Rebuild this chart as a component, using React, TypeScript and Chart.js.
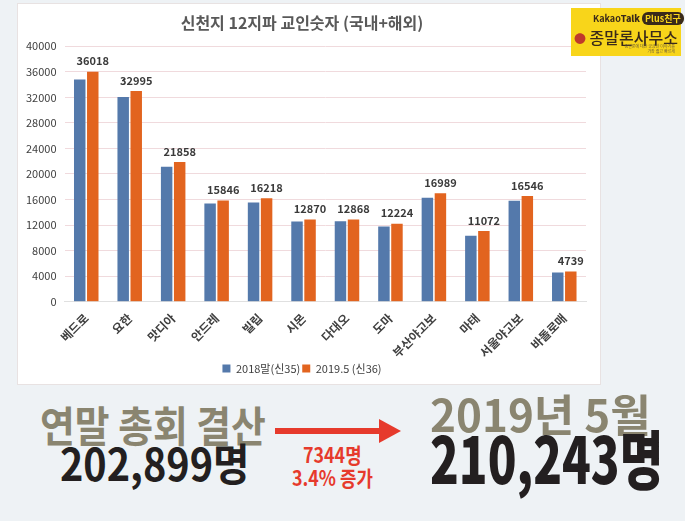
import React, { useEffect, useRef } from "react";
import { Chart, registerables } from "chart.js";

Chart.register(...registerables);

const categories = [
  "베드로", "요한", "맛디아", "안드레", "빌립", "시몬",
  "다대오", "도마", "부산야고보", "마태", "서울야고보", "바돌로매",
];
const series2018 = [34780, 32040, 21150, 15370, 15550, 12560, 12600, 11800, 16300, 10350, 15800, 4600];
const series2019 = [36018, 32995, 21858, 15846, 16218, 12870, 12868, 12224, 16989, 11072, 16546, 4739];
const seriesNames = ["2018말(신35)", "2019.5 (신36)"];
const yMin = 0;
const yMax = 40000;
const yStep = 4000;
const chartTitle = "신천지 12지파 교인숫자 (국내+해외)";

const FONT = "'Noto Sans CJK KR', 'Noto Sans', sans-serif";

const labelPlugin = {
  id: "topLabels",
  afterDatasetsDraw(chart: any) {
    const ctx = chart.ctx;
    const meta = chart.getDatasetMeta(1);
    ctx.save();
    ctx.font = `bold 11px ${FONT}`;
    ctx.fillStyle = "#3a3a3a";
    ctx.textAlign = "center";
    ctx.textBaseline = "bottom";
    meta.data.forEach((el: any, i: number) => {
      ctx.fillText(String(series2019[i]), el.x, el.y - 5);
    });
    ctx.restore();
  },
};

export default function App() {
  const ref = useRef<HTMLCanvasElement | null>(null);

  useEffect(() => {
    document.body.style.margin = "0";
    if (!ref.current) return;
    const chart = new Chart(ref.current, {
      type: "bar",
      data: {
        labels: categories,
        datasets: [
          {
            label: seriesNames[0],
            data: series2018,
            backgroundColor: "#5479ab",
            borderWidth: 0,
            barPercentage: 0.88,
            categoryPercentage: 0.6,
          },
          {
            label: seriesNames[1],
            data: series2019,
            backgroundColor: "#e2641f",
            borderWidth: 0,
            barPercentage: 0.88,
            categoryPercentage: 0.6,
          },
        ],
      },
      options: {
        responsive: false,
        animation: false,
        layout: { padding: { left: 0, right: 12, top: 0, bottom: 0 } },
        plugins: {
          title: {
            display: true,
            text: chartTitle,
            color: "#595959",
            font: { family: FONT, size: 16, weight: "bold" },
            padding: { top: 9, bottom: 14 },
          },
          legend: {
            position: "bottom",
            labels: {
              boxWidth: 8,
              boxHeight: 8,
              color: "#404040",
              font: { family: FONT, size: 11 },
              padding: 2,
            },
          },
          tooltip: { enabled: false },
        },
        scales: {
          x: {
            grid: { display: false },
            border: { color: "#e0e0e0" },
            ticks: {
              color: "#404040",
              font: { family: FONT, size: 12, weight: "bold" },
              minRotation: 45,
              maxRotation: 45,
              autoSkip: false,
              padding: 1,
            },
          },
          y: {
            min: yMin,
            max: yMax,
            border: { display: false },
            grid: { color: "#f0dadd", drawTicks: false },
            ticks: {
              stepSize: yStep,
              color: "#404040",
              font: { family: FONT, size: 11 },
              padding: 8,
              callback: (v: any) => String(v),
            },
          },
        },
      },
      plugins: [labelPlugin],
    });
    return () => chart.destroy();
  }, []);

  const txt = (size: number, color: string, sx: number, weight = 700): React.CSSProperties => ({
    position: "absolute",
    fontFamily: FONT,
    fontWeight: weight,
    fontSize: size,
    color,
    whiteSpace: "nowrap",
    transform: `scaleX(${sx})`,
    transformOrigin: "left top",
    lineHeight: 1,
  });

  return (
    <div style={{ position: "absolute", left: 0, top: 0, width: 685, height: 521, background: "#eef2f5", overflow: "hidden" }}>
      <div style={{ position: "absolute", left: 17, top: 3, width: 582, height: 380, background: "#ffffff", border: "1px solid #e8e2e2" }}>
        <canvas ref={ref} width={580} height={380} style={{ position: "absolute", left: 0, top: 0 }} />
      </div>
      <div style={{ position: "absolute", left: 571, top: 8, width: 110, height: 48, background: "#f8d51a", fontFamily: FONT }}>
        <div style={{ position: "absolute", left: 22, top: 4, fontSize: 9, fontWeight: 700, color: "#3a2a1a", whiteSpace: "nowrap" }}>
          Kakao<b>Talk</b>{" "}
          <span style={{ background: "#3a2a1a", color: "#f8d51a", borderRadius: 6, padding: "0 3px", fontSize: 9 }}>Plus친구</span>
        </div>
        <div style={{ position: "absolute", left: 3, top: 17, fontSize: 16, fontWeight: 500, color: "#3a2a1a", whiteSpace: "nowrap" }}>
          <span style={{ color: "#c0392b", fontSize: 12 }}>●</span> 종말론사무소
        </div>
        <div style={{ position: "absolute", right: 6, top: 36, fontSize: 4, color: "#6a5a3a", lineHeight: 1.2, textAlign: "right", whiteSpace: "nowrap" }}>
          종말론에 대한 궁금한 이야기를<br />가장 쉽고 빠르게
        </div>
      </div>

      <div style={{ ...txt(42, "#8a8570", 0.9), left: 40, top: 403 }}>연말 총회 결산</div>
      <div style={{ ...txt(44, "#231f20", 0.9), left: 60, top: 440 }}>202,899명</div>

      <svg style={{ position: "absolute", left: 275, top: 418 }} width={130} height={26}>
        <rect x={0} y={10} width={110} height={6} fill="#e63a2c" />
        <polygon points="104,1 126,13 104,25" fill="#e63a2c" />
      </svg>
      <div style={{ ...txt(21, "#e63a2c", 0.85), left: 303, top: 444 }}>7344명</div>
      <div style={{ ...txt(21, "#e63a2c", 0.85), left: 292, top: 467 }}>3.4% 증가</div>

      <div style={{ ...txt(44, "#8a8570", 1.0), left: 430, top: 391 }}>2019년 5월</div>
      <div style={{ ...txt(64, "#231f20", 0.74, 900), left: 430, top: 424 }}>210,243명</div>
    </div>
  );
}
